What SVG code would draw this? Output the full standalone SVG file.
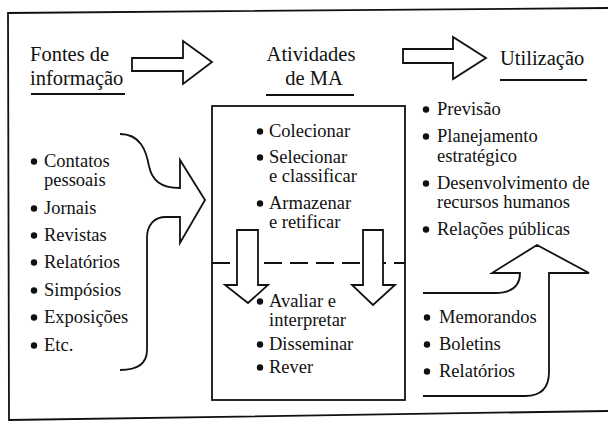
<svg xmlns="http://www.w3.org/2000/svg" width="608" height="422" viewBox="0 0 608 422">
<style>
.t{font-family:"Liberation Serif","Times New Roman",serif;fill:#111}
.h{font-size:20.5px}
.l{font-size:18.5px}
.ln{fill:none;stroke:#111;stroke-width:1.8;stroke-linejoin:miter}
.ar{fill:#fff;stroke:#111;stroke-width:1.8;stroke-linejoin:miter}
.b{fill:#111}
</style>
<rect width="608" height="422" fill="#fff"/>
<path class="ln" d="M608,8 L8,13 L9,420 L608,411" stroke-width="2"/>

<g id="fontes">
<text class="t h" x="30" y="61">Fontes de</text>
<text class="t h" x="30" y="85">informação</text>
<line class="ln" x1="31" y1="94" x2="125" y2="94"/>
</g>
<g id="atividades">
<text class="t h" x="311" y="61" text-anchor="middle">Atividades</text>
<text class="t h" x="314" y="85" text-anchor="middle">de MA</text>
<line class="ln" x1="266" y1="95" x2="354" y2="95"/>
</g>
<g id="utilizacao">
<text class="t h" x="500" y="65">Utilização</text>
<line class="ln" x1="500" y1="80" x2="587" y2="80"/>
</g>

<g id="fontes-lista">
<circle class="b" cx="34" cy="161.5" r="3.2"/><text class="t l" x="44" y="167">Contatos</text>
<text class="t l" x="44" y="186">pessoais</text>
<circle class="b" cx="34" cy="208.5" r="3.2"/><text class="t l" x="44" y="214">Jornais</text>
<circle class="b" cx="34" cy="235.5" r="3.2"/><text class="t l" x="44" y="241">Revistas</text>
<circle class="b" cx="34" cy="262.5" r="3.2"/><text class="t l" x="44" y="268">Relatórios</text>
<circle class="b" cx="34" cy="290.5" r="3.2"/><text class="t l" x="44" y="296">Simpósios</text>
<circle class="b" cx="34" cy="317.5" r="3.2"/><text class="t l" x="44" y="323">Exposições</text>
<circle class="b" cx="34" cy="345.5" r="3.2"/><text class="t l" x="44" y="351">Etc.</text>
</g>

<g id="atividades-box">
<rect class="ln" x="212" y="106" width="193" height="294" stroke-width="2"/>
<line x1="212" y1="263" x2="405" y2="263" stroke="#111" stroke-width="1.8" stroke-dasharray="18 8"/>
<circle class="b" cx="260" cy="131.5" r="3.2"/><text class="t l" x="269" y="137">Colecionar</text>
<circle class="b" cx="260" cy="157.5" r="3.2"/><text class="t l" x="269" y="163">Selecionar</text>
<text class="t l" x="269" y="182">e classificar</text>
<circle class="b" cx="260" cy="203.5" r="3.2"/><text class="t l" x="269" y="209">Armazenar</text>
<text class="t l" x="269" y="228">e retificar</text>
<circle class="b" cx="260" cy="301.5" r="3.2"/><text class="t l" x="269" y="307">Avaliar e</text>
<text class="t l" x="269" y="326">interpretar</text>
<circle class="b" cx="260" cy="344.5" r="3.2"/><text class="t l" x="269" y="350">Disseminar</text>
<circle class="b" cx="260" cy="367.5" r="3.2"/><text class="t l" x="269" y="373">Rever</text>
</g>

<g id="utilizacao-lista">
<circle class="b" cx="426" cy="109.5" r="3.2"/><text class="t l" x="437" y="115">Previsão</text>
<circle class="b" cx="426" cy="136.5" r="3.2"/><text class="t l" x="437" y="142">Planejamento</text>
<text class="t l" x="437" y="162">estratégico</text>
<circle class="b" cx="426" cy="183.5" r="3.2"/><text class="t l" x="437" y="189">Desenvolvimento de</text>
<text class="t l" x="437" y="208">recursos humanos</text>
<circle class="b" cx="426" cy="229.5" r="3.2"/><text class="t l" x="437" y="235">Relações públicas</text>
</g>

<g id="saidas-lista">
<circle class="b" cx="427" cy="317.5" r="3.2"/><text class="t l" x="439" y="323">Memorandos</text>
<circle class="b" cx="427" cy="344.5" r="3.2"/><text class="t l" x="439" y="350">Boletins</text>
<circle class="b" cx="427" cy="371.5" r="3.2"/><text class="t l" x="439" y="377">Relatórios</text>
</g>

<g id="connectors">
<path class="ar" d="M132,58 L183,58 L183,41 L212,62 L183,84 L183,71 L132,71 Z"/>
<path class="ar" d="M403,49 L453,49 L453,37 L486,58 L453,79 L453,63 L403,63 Z"/>
<path class="ar" d="M237,230 L258,230 L258,285 L268,285 L248,303 L225,285 L237,285 Z"/>
<path class="ar" d="M363,230 L383,230 L383,285 L395,285 L373,305 L352,285 L363,285 Z"/>
<path class="ln" d="M120,134 C140,134 146,150 149,166 C152,180 160,188 180,188 L180,160 L205,200 L180,243 L180,217 L166,217 C154,217 147,225 147,238 L147,350 C147,362 140,370 120,370"/>
<path class="ln" d="M423,293 L495,293 Q520,293 520,273 L492,273 L537,245 L589,273 L549,273 L549,372 Q549,396 525,396 L423,396"/>
</g>
</svg>
